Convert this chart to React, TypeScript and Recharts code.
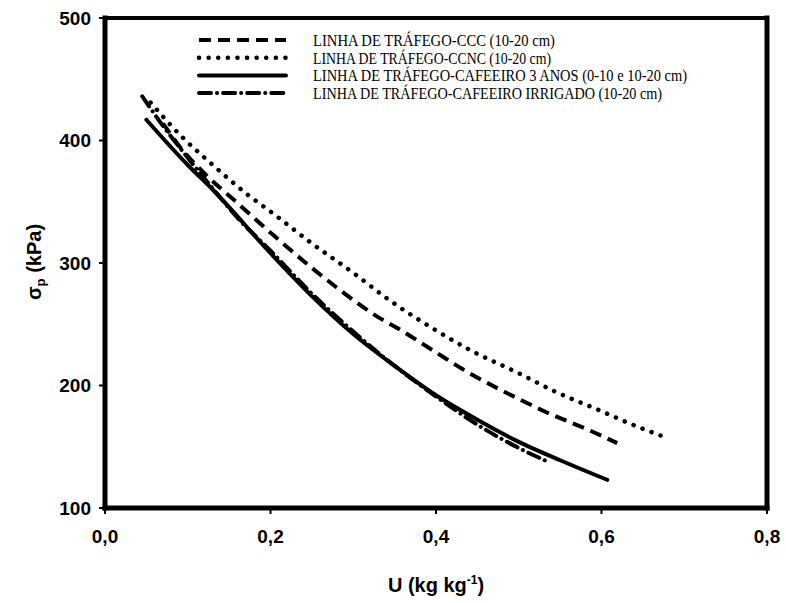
import { LineChart, Line, XAxis, YAxis, ReferenceLine } from "recharts";

// U (kg kg-1) and preconsolidation pressure (kPa)
const cccU = [0.07, 0.088, 0.125, 0.155, 0.178, 0.203, 0.25, 0.28, 0.332, 0.353, 0.4, 0.433, 0.5, 0.534, 0.58, 0.619];
const cccSp = [414, 397, 370, 352, 338, 323, 296, 280, 255, 247, 227, 213, 189, 178, 165, 153];

const ccncU = [0.055, 0.093, 0.127, 0.172, 0.2, 0.25, 0.3, 0.341, 0.4, 0.441, 0.5, 0.544, 0.6, 0.634, 0.68];
const ccncSp = [431, 403, 382, 356, 342, 316, 292, 271, 245, 229, 210, 195, 179, 169, 157];

const cafe3U = [0.05, 0.1, 0.13, 0.2, 0.25, 0.3, 0.35, 0.4, 0.45, 0.5, 0.55, 0.607];
const cafe3Sp = [417, 380, 360, 308, 273, 242, 216, 192, 172, 154, 139, 123];

const irrigU = [0.045, 0.07, 0.1, 0.13, 0.16, 0.2, 0.25, 0.3, 0.35, 0.4, 0.45, 0.5, 0.538];
const irrigSp = [436, 412, 386, 361, 337, 310, 275, 244, 216, 191, 168, 149, 137];

const uTicks = [0, 0.2, 0.4, 0.6, 0.8];
const spTicks = [100, 200, 300, 400, 500];

const legendLabels = [
  "LINHA DE TRÁFEGO-CCC (10-20 cm)",
  "LINHA DE TRÁFEGO-CCNC (10-20 cm)",
  "LINHA DE TRÁFEGO-CAFEEIRO 3 ANOS (0-10 e 10-20 cm)",
  "LINHA DE TRÁFEGO-CAFEEIRO IRRIGADO (10-20 cm)",
];
const legendWidths = [242, 238, 374, 349];

const pts = (u: number[], sp: number[]) => u.map((x, i) => ({ u: x, sp: sp[i] }));

const styles = [
  { dash: "12 7", cap: "butt" as const, w: 4 },
  { dash: "0.1 9.5", cap: "round" as const, w: 4.5 },
  { dash: undefined, cap: "round" as const, w: 4 },
  { dash: "12 6 0.1 6", cap: "round" as const, w: 4 },
];

const series = [pts(cccU, cccSp), pts(ccncU, ccncSp), pts(cafe3U, cafe3Sp), pts(irrigU, irrigSp)];

const sans = "'Liberation Sans', Arial, sans-serif";
const serif = "'Liberation Serif', 'Times New Roman', serif";

const frame = { stroke: "#000", strokeLinecap: "square" as const, ifOverflow: "visible" as const };

export default function App() {
  return (
    <div style={{ position: "absolute", left: 0, top: 0, width: 786, height: 603, background: "#fff" }}>
      <LineChart width={786} height={603} margin={{ top: 18, right: 19, left: 45, bottom: 55 }}>
        <XAxis
          type="number"
          dataKey="u"
          domain={[0, 0.8]}
          ticks={uTicks}
          height={40}
          tickFormatter={(v: number) => v.toFixed(1).replace(".", ",")}
          axisLine={false}
          tickLine={{ stroke: "#000", strokeWidth: 2 }}
          tickSize={6}
          tickMargin={16}
          tick={{ fill: "#000", fontSize: 19, fontWeight: "bold", fontFamily: sans }}
          allowDuplicatedCategory={false}
        />
        <YAxis
          type="number"
          dataKey="sp"
          domain={[100, 500]}
          ticks={spTicks}
          width={60}
          axisLine={false}
          tickLine={{ stroke: "#000", strokeWidth: 2 }}
          tickSize={6}
          tickMargin={8}
          tick={{ fill: "#000", fontSize: 19, fontWeight: "bold", fontFamily: sans }}
        />
        <ReferenceLine y={500} {...frame} strokeWidth={4} />
        <ReferenceLine x={0.8} {...frame} strokeWidth={5} />
        <ReferenceLine y={100} {...frame} strokeWidth={5} />
        <ReferenceLine x={0} {...frame} strokeWidth={5} />
        {series.map((d, i) => (
          <Line
            key={i}
            data={d}
            dataKey="sp"
            type="monotone"
            stroke="#000"
            strokeWidth={styles[i].w}
            strokeDasharray={styles[i].dash}
            strokeLinecap={styles[i].cap}
            dot={false}
            activeDot={false}
            isAnimationActive={false}
          />
        ))}
      </LineChart>
      <svg width={786} height={603} style={{ position: "absolute", left: 0, top: 0, pointerEvents: "none" }}>
        {legendLabels.map((t, i) => {
          const y = 40 + i * 17.7;
          return (
            <g key={t}>
              <line
                x1={199}
                x2={286}
                y1={y}
                y2={y}
                stroke="#000"
                strokeWidth={styles[i].w}
                strokeDasharray={styles[i].dash}
                strokeLinecap={styles[i].cap}
              />
              <text
                x={313}
                y={y + 6}
                fontFamily={serif}
                fontSize={17}
                textLength={legendWidths[i]}
                lengthAdjust="spacingAndGlyphs"
              >
                {t}
              </text>
            </g>
          );
        })}
        <text x={436} y={592} textAnchor="middle" fontFamily={sans} fontWeight="bold" fontSize={20}>
          U (kg kg<tspan dy={-8} fontSize={12}>-1</tspan>
          <tspan dy={8}>)</tspan>
        </text>
        <text
          x={41}
          y={262}
          transform="rotate(-90 41 262)"
          textAnchor="middle"
          fontFamily={sans}
          fontWeight="bold"
          fontSize={20}
        >
          σ<tspan dy={4} fontSize={13}>p</tspan>
          <tspan dy={-4}> (kPa)</tspan>
        </text>
      </svg>
    </div>
  );
}
